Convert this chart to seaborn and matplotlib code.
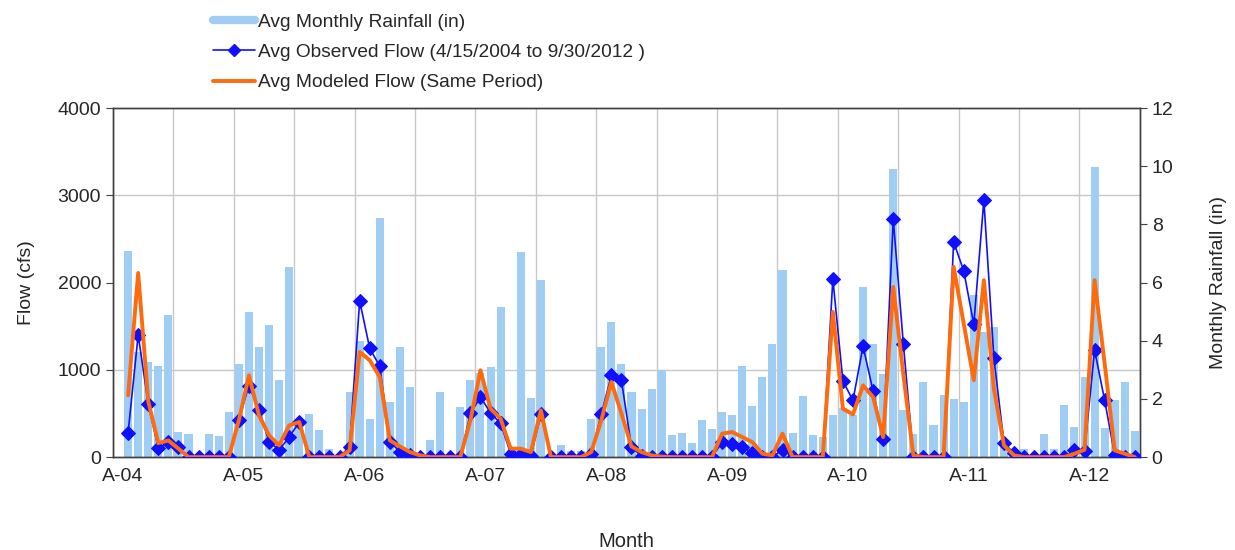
import numpy as np
import matplotlib
matplotlib.use("Agg")
import matplotlib.pyplot as plt
from matplotlib.lines import Line2D
from matplotlib.ticker import FixedLocator
import seaborn as sns

# monthly values, April 2004 .. August 2012
rain = [7.07, 3.6, 3.27, 3.12, 4.88, 0.86, 0.80, 0.0, 0.80, 0.71, 1.55, 3.21,
        4.99, 3.77, 4.53, 2.64, 6.54, 1.2, 1.47, 0.92, 0.29, 0.0, 2.24, 4.0,
        1.32, 8.21, 1.89, 3.79, 2.41, 0.1, 0.57, 2.24, 0.05, 1.72, 2.66, 2.9,
        3.1, 5.17, 0.25, 7.06, 2.04, 6.08, 0.0, 0.4, 0.2, 0.2, 1.32, 3.79,
        4.65, 3.21, 2.24, 1.66, 2.35, 3.01, 0.75, 0.83, 0.48, 1.29, 0.98, 1.55,
        1.43, 3.12, 1.74, 2.76, 3.90, 6.43, 0.83, 2.09, 0.75, 0.69, 1.43, 1.7,
        1.45, 5.85, 3.90, 2.87, 9.90, 1.61, 0.80, 2.58, 1.09, 2.12, 2.01, 1.89,
        5.57, 4.3, 4.48, 0.57, 0.23, 0.29, 0.0, 0.8, 0.29, 1.8, 1.02, 2.76,
        9.97, 1.01, 1.95, 2.58, 0.90]

observed = [280, 1400, 610, 100, 170, 115, 0, 0, 0, 0, 0, 430,
            820, 545, 175, 80, 230, 400, 0, 0, 0, 0, 120, 1790,
            1245, 1040, 175, 60, 20, 0, 0, 0, 0, 0, 500, 690,
            505, 385, 40, 30, 10, 490, 0, 0, 0, 0, 40, 490,
            935, 880, 115, 10, 0, 0, 0, 0, 0, 0, 0, 170,
            155, 120, 45, 0, 0, 85, 0, 0, 0, 0, 2040, 870,
            650, 1270, 755, 210, 2725, 1300, 5, 0, 0, 0, 2465, 2135,
            1520, 2945, 1130, 160, 45, 5, 0, 0, 0, 0, 80, 70,
            1225, 650, 20, 5, 0]

modeled = [707, 2110, 640, 160, 190, 96, 0, 0, 0, 0, 0, 420,
           937, 478, 249, 134, 363, 401, 0, 0, 0, 0, 76, 1205,
           1109, 918, 191, 122, 57, 19, 0, 0, 0, 0, 420, 994,
           554, 440, 96, 96, 57, 535, 0, 0, 0, 0, 57, 420,
           860, 500, 122, 57, 19, 5, 0, 0, 0, 0, 0, 268,
           287, 229, 172, 38, 19, 268, 0, 0, 0, 0, 1663, 554,
           489, 822, 688, 229, 1950, 950, 19, 0, 0, 0, 2180, 1530,
           880, 2027, 780, 134, 19, 0, 0, 0, 0, 0, 38, 84,
           2027, 1070, 76, 38, 0]

year_labels = ["A-04", "A-05", "A-06", "A-07", "A-08", "A-09", "A-10", "A-11", "A-12"]

months = np.arange(len(rain))

BAR = "#a0cdf4"
BLUE = "#1010ff"
ORANGE = "#ff6a0d"
GRID = "#c8c8c8"
SPINE = "#404040"

sns.set_style("white")
plt.rcParams["font.family"] = ["Liberation Sans", "DejaVu Sans"]

fig = plt.figure(figsize=(12.35, 5.5), dpi=100)
ax = fig.add_axes([0.0915, 0.169, 0.8315, 0.6345])   # rainfall (right scale), bottom layer
ax2 = ax.twinx()                                     # flows (left scale), top layer

sns.barplot(x=months, y=rain, ax=ax, color=BAR, saturation=1, width=0.8,
            native_scale=True, edgecolor="none", zorder=2)

sns.lineplot(x=months, y=observed, ax=ax2, color=BLUE, lw=1.2, marker="D",
             markersize=7, markeredgecolor=BLUE, zorder=3)
sns.lineplot(x=months, y=modeled, ax=ax2, color=ORANGE, lw=2.8, zorder=4)

# swap the y scales: flow on the left, rainfall on the right
ax.yaxis.tick_right()
ax.yaxis.set_label_position("right")
ax2.yaxis.tick_left()
ax2.yaxis.set_label_position("left")

ax.set_xlim(-1.5, len(rain) - 0.5)
ax.set_ylim(0, 12)
ax.set_yticks(range(0, 13, 2))
ax2.set_ylim(0, 4000)
ax2.set_yticks(range(0, 4001, 1000))

# six-month tick marks / gridlines, yearly labels
ax.xaxis.set_major_locator(FixedLocator(np.arange(-1.5, len(rain), 6)))
ax.xaxis.set_minor_locator(FixedLocator(np.arange(len(year_labels)) * 12 - 0.5))
ax.set_xticklabels([], minor=False)
ax.set_xticklabels(year_labels, minor=True)
ax.yaxis.set_minor_locator(FixedLocator([3, 6, 9]))
ax.grid(axis="x", which="major", color=GRID, lw=1)
ax.grid(axis="y", which="minor", color=GRID, lw=1)
ax.set_axisbelow(True)

ax.tick_params(axis="x", which="major", direction="out", length=5, color=SPINE)
ax.tick_params(axis="x", which="minor", length=0, labelsize=14, pad=8)
ax.tick_params(axis="y", which="minor", length=0)
ax.tick_params(axis="y", which="major", direction="out", length=5, color=SPINE,
               labelsize=14, right=True, left=False)
ax2.tick_params(axis="y", direction="out", length=5, color=SPINE, labelsize=14,
                left=True, right=False)

ax.set_xlabel("Month", fontsize=14.5, labelpad=34)
ax.set_ylabel("Monthly Rainfall (in)", fontsize=14, labelpad=26)
ax2.set_ylabel("Flow (cfs)", fontsize=14, labelpad=16)

for a in (ax, ax2):
    for s in a.spines.values():
        s.set_color(SPINE)
        s.set_linewidth(1.0)

handles = [
    Line2D([], [], color=BAR, lw=6),
    Line2D([], [], color=BLUE, lw=1.2, marker="D", markersize=6),
    Line2D([], [], color=ORANGE, lw=2.8),
]
labels = [
    "Avg Monthly Rainfall (in)",
    "Avg Observed Flow (4/15/2004 to 9/30/2012 )",
    "Avg Modeled Flow (Same Period)",
]
fig.legend(handles, labels, loc="upper left", bbox_to_anchor=(0.166, 0.99),
           frameon=False, fontsize=13.8, handlelength=2.2, handletextpad=0.15,
           labelspacing=0.68, borderaxespad=0)

fig.savefig("out.png", dpi=100)
